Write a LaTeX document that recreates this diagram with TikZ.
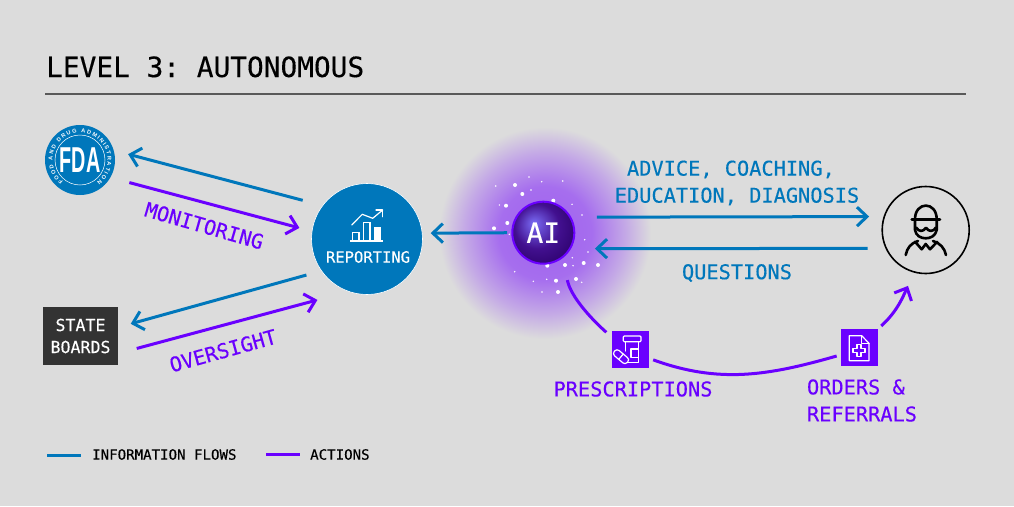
\documentclass[tikz,border=0pt]{standalone}
\usepackage{fontspec}
\setmainfont{DejaVu Sans Mono}[FakeBold=0.3]
\setsansfont{Liberation Sans}
\frenchspacing
\usetikzlibrary{arrows.meta,decorations.text}
\definecolor{paper}{HTML}{DCDCDC}
\definecolor{infoblue}{HTML}{0077BB}
\definecolor{actionpurple}{HTML}{6A00FF}
\definecolor{boardgray}{HTML}{333333}
\definecolor{glowa}{HTML}{A060F0}
\definecolor{glowb}{HTML}{A66EEE}
\definecolor{glowc}{HTML}{C4A9E6}
\definecolor{ballhigh}{HTML}{7A6CF5}
\definecolor{ballmid}{HTML}{42108F}
\definecolor{balllow}{HTML}{2A0068}
\pgfdeclareradialshading{aiglow}{\pgfpoint{0bp}{0bp}}{%
  color(0bp)=(glowa);
  color(11bp)=(glowb);
  color(19bp)=(glowc);
  color(25bp)=(paper);
  color(50bp)=(paper)}
\pgfdeclareradialshading{aiball}{\pgfpoint{-8bp}{8bp}}{%
  color(0bp)=(ballhigh);
  color(18bp)=(ballmid);
  color(34bp)=(balllow);
  color(50bp)=(balllow)}
\tikzset{
  infoline/.style={->, infoblue, line width=3pt},
  actionline/.style={->, actionpurple, line width=3pt},
  flowlabel/.style={font=\fontsize{20.3}{27}\selectfont},
  iconbox/.style={fill=actionpurple, minimum size=37pt, inner sep=0pt, outer sep=0pt},
  iconline/.style={white, line width=1.2pt, line join=round, line cap=round},
  doctorline/.style={black, line width=2.6pt, line join=round, line cap=round},
}
\begin{document}
\begin{tikzpicture}[x=1pt, y=-1pt, >={Straight Barb[length=10pt,width=19pt]}]
\fill[paper] (0,0) rectangle (1014,506);
\useasboundingbox (0,0) rectangle (1014,506);
% Title
\node[anchor=base west, inner sep=0pt, font=\fontsize{27.8}{28}\selectfont] (title) at (46,77) {LEVEL 3: AUTONOMOUS};
\coordinate (ruleleft) at (45,94);
\coordinate (ruleright) at (966,94);
\draw[black!65, line width=1.6pt] (ruleleft) -- (ruleright);
% Glow behind the AI
\shade[shading=aiglow] (545,233) circle (106);
\foreach \x/\y in {515/185, 522.3/194, 553.3/200.7, 506/205.7, 507.3/223, 494/228.3, 547.3/265.7,
  565/265, 583.7/263, 598/265, 576/279, 556/280.7, 558/292}
  \fill[white] (\x,\y) circle (2);
\foreach \x/\y in {495.7/186, 529/177, 541.7/181.7, 562.7/181, 531/190, 572/204.3, 582/215, 499.3/205,
  584.7/239.7, 588/252, 572.3/257.7, 573/265.7, 514.7/271.7, 533.3/281.3, 546.7/279.3, 581.7/282.3,
  542/292, 509.3/234.3}
  \fill[white] (\x,\y) circle (0.8);
% Main nodes
\node[circle, fill=infoblue, minimum size=70pt, inner sep=0pt, outer sep=0pt, text=white,
  font=\sffamily\bfseries\fontsize{36}{36}\selectfont] (fda) at (80,160) {\scalebox{0.55}[1]{FDA}};
\node[fill=boardgray, minimum width=75pt, minimum height=58pt, inner sep=0pt, outer sep=0pt, text=white, align=center,
  font=\fontsize{16.6}{22}\selectfont] (boards) at (80.5,336) {STATE\\BOARDS};
\node[circle, fill=infoblue, draw=white, line width=0.6pt, minimum size=111pt, inner sep=0pt, outer sep=0pt] (reporting) at (367,239) {};
\node[text=white, font=\fontsize{15.5}{16}\selectfont, inner sep=0pt] (reportinglabel) at (368,257) {REPORTING};
\node[circle, draw=actionpurple, line width=2pt, minimum size=62pt, inner sep=0pt, outer sep=0pt, text=white,
  shading=aiball, font=\fontsize{28}{28}\selectfont] (ai) at (543.3,232.7) {AI};
\node[circle, draw=black, line width=1.6pt, minimum size=87pt, inner sep=0pt, outer sep=0pt] (doctor) at (925.7,230) {};
\node[iconbox] (rx) at (630,349.5) {};
\node[iconbox] (orders) at (859,347.8) {};
% FDA seal
\draw[white, line width=0.5pt] (fda.center) circle (25);
\path[decorate, decoration={text along path, text align={fit to path}, text color=white,
  text={|\sffamily\bfseries\fontsize{5.6}{6}\selectfont|FOOD AND DRUG ADMINISTRATION}}]
  (fda.center) ++(232:27.5pt) arc[start angle=232, end angle=-52, radius=27.5pt];
% Reporting icon
\draw[white, line width=1.2pt] (350,241) -- (382.7,241);
\draw[white, line width=1.2pt] (352.3,241) |- (359,232.7) -- (359,241);
\draw[white, line width=1.2pt] (363.3,241) |- (370,222.7) -- (370,241);
\fill[white] (373.7,226.7) rectangle (381.3,241);
\draw[iconline] (351.7,225) -- (362.3,214.3) -- (372.7,218.3) -- (382.7,210);
\draw[iconline] (376,210) -- (382.7,210) -- (382.7,216.7);
% Doctor icon
\draw[doctorline] (911.7,219.3) -- (940,219.3);
\draw[doctorline] (915,219.3) .. controls (915,201) and (936.7,201) .. (936.7,219.3);
\draw[doctorline] (915,219.3) -- (915,230) .. controls (916,236) and (921,238.3) .. (925.7,238.3)
  .. controls (930.5,238.3) and (935.5,236) .. (936.7,230) -- (936.7,219.3);
\draw[doctorline] (916,227.5) .. controls (919,232) and (923,232) .. (926,227.8)
  .. controls (929,232) and (933,232) .. (936,227.5);
\draw[doctorline] (905.7,255) .. controls (907,248) and (911,243) .. (918,241);
\draw[doctorline] (933,241) .. controls (940,243) and (944.5,248) .. (946,255);
\draw[doctorline] (915,241.7) -- (921.7,249.3) -- (925.7,244) -- (930,249.3) -- (937.3,241.7);
% Prescription icon
\draw[iconline, rounded corners=1pt] (623.3,336) rectangle (641,341.7);
\draw[iconline] (625.7,341.7) -- (625.7,351);
\draw[iconline] (638.3,341.7) -- (638.3,362.7) -- (625,362.7);
\draw[iconline] (631,349) rectangle (638.3,357.3);
\begin{scope}[shift={(621,356.7)}, rotate=-40]
  \draw[iconline, fill=actionpurple, rounded corners=3pt] (-8.5,-3.5) rectangle (8.5,3.5);
  \draw[iconline] (0,-3.5) -- (0,3.5);
\end{scope}
% Orders icon
\draw[iconline] (861.7,335.7) -- (849.3,335.7) -- (849.3,360.7) -- (869,360.7) -- (869,343.3) -- cycle;
\draw[iconline] (861.7,335.7) -- (861.7,343.3) -- (869,343.3);
\draw[iconline] (857,344.3) -- (861,344.3) -- (861,348.3) -- (865,348.3) -- (865,352.3) -- (861,352.3)
  -- (861,356.3) -- (857,356.3) -- (857,352.3) -- (853,352.3) -- (853,348.3) -- (857,348.3) -- cycle;
% Flows on the left
\draw[infoline, shorten <=20.7pt, shorten >=15pt] (reporting.143.5) -- (fda.16);
\draw[actionline, shorten <=19.7pt, shorten >=13.1pt] (fda.-30) -- (reporting.172.4);
\draw[infoline, shorten <=15.7pt, shorten >=13.2pt] (reporting.215.3) -- (boards.13.8);
\draw[actionline, shorten <=19.4pt, shorten >=32.6pt] (boards.-25.6) -- (reporting.251.6);
\node[actionpurple, flowlabel, rotate=-16, inner sep=0pt] (monitoring) at (204.3,225.7) {MONITORING};
\node[actionpurple, flowlabel, rotate=15.5, inner sep=0pt] (oversight) at (223,350.7) {OVERSIGHT};
% Flows around the AI
\draw[infoline, shorten <=5.3pt, shorten >=8.5pt] (ai.180) -- (reporting.6.2);
\draw[infoline, shorten <=26.6pt, shorten >=15.2pt] (ai.30) -- (doctor.162.6);
\draw[infoline, shorten <=18.6pt, shorten >=25pt] (doctor.205.9) -- (ai.-31.4);
\node[infoblue, flowlabel, align=center, inner sep=0pt] (advice) at (737,183) {ADVICE, COACHING,\phantom{M}\\EDUCATION, DIAGNOSIS};
\node[infoblue, flowlabel, inner sep=0pt] (questions) at (737,273) {QUESTIONS};
% Prescribing path
\draw[actionline, -, shorten <=24pt, shorten >=7pt] (ai.-50) to[out=-80, in=138] (rx.146);
\draw[actionline, -, shorten <=5pt, shorten >=4pt] (rx.-25) to[out=-20, in=196] (orders.201.6);
\draw[actionline, shorten <=5pt, shorten >=15.3pt] (orders.north east) to[out=42, in=245] (doctor.-105.5);
\node[actionpurple, flowlabel, inner sep=0pt] (prescriptions) at (633,389) {PRESCRIPTIONS};
\node[actionpurple, flowlabel, align=left, inner sep=0pt] (referrals) at (862,400.5) {ORDERS \&\\REFERRALS};
% Legend
\coordinate (infokeyleft) at (47,455);
\coordinate (infokeyright) at (81,455);
\coordinate (actionkeyleft) at (266,454);
\coordinate (actionkeyright) at (300,454);
\draw[infoblue, line width=3pt] (infokeyleft) -- (infokeyright);
\draw[actionpurple, line width=3pt] (actionkeyleft) -- (actionkeyright);
\node[anchor=west, inner sep=0pt, font=\fontsize{14.1}{15}\selectfont] (infokey) at (92,454.5) {INFORMATION FLOWS};
\node[anchor=west, inner sep=0pt, font=\fontsize{14.1}{15}\selectfont] (actionkey) at (310,454.5) {ACTIONS};
\end{tikzpicture}
\end{document}
